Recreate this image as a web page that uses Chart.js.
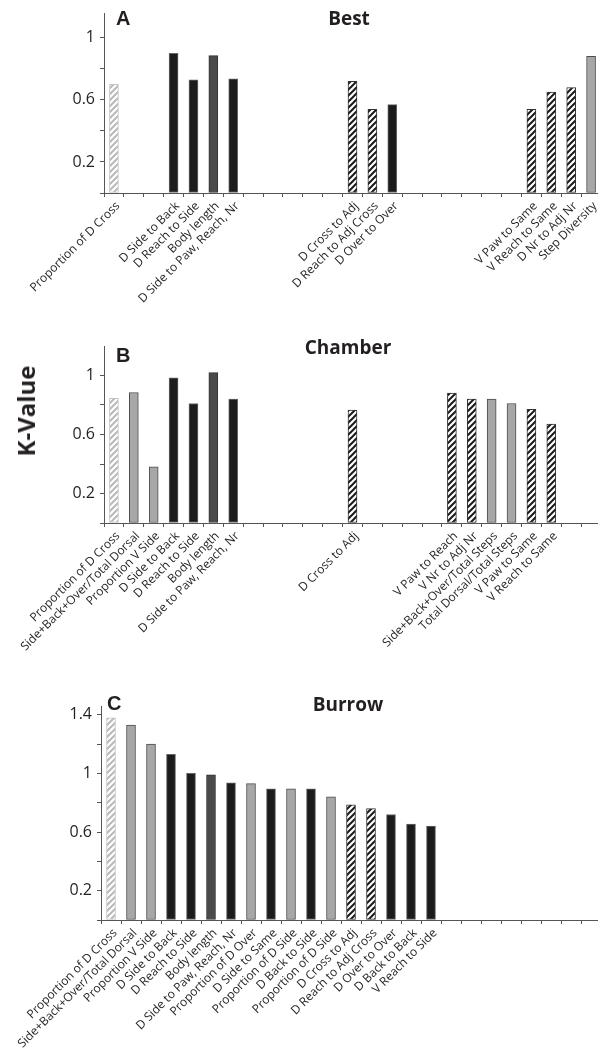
<!DOCTYPE html>
<html lang="en">
<head>
  <meta charset="UTF-8" />
  <title>K-Value: Best / Chamber / Burrow</title>
  <script src="https://cdn.jsdelivr.net/npm/chart.js"></script>
  <style>
    body { margin: 0; background: #fff; overflow: hidden; }
    #wrap { position: relative; width: 598px; height: 1055px; overflow: hidden; }
    canvas { position: absolute; left: 0; }
    .letter { position: absolute; font: bold 20px/20px "Liberation Sans", Arial, sans-serif; color: #231f20; }
    .title { position: absolute; font: bold 19px/19px "Open Sans", sans-serif; color: #231f20; transform: translateX(-50%); white-space: nowrap; }
    #ylab { position: absolute; left: 26px; top: 411px; font: bold 24px/24px "Open Sans", sans-serif; color: #231f20;
            transform: translate(-50%, -50%) rotate(-90deg); white-space: nowrap; }
  </style>
</head>
<body>
<div id="wrap">
  <canvas id="chartA" width="601" height="330" style="top:0px"></canvas>
  <canvas id="chartB" width="601" height="337" style="top:333px"></canvas>
  <canvas id="chartC" width="601" height="385" style="top:670px"></canvas>

  <div class="letter" style="left:116px; top:8px">A</div>
  <div class="title" style="left:349px; top:9px">Best</div>
  <div class="letter" style="left:116px; top:345px">B</div>
  <div class="title" style="left:348px; top:338px">Chamber</div>
  <div class="letter" style="left:107px; top:693px">C</div>
  <div class="title" style="left:348px; top:695px">Burrow</div>
  <div id="ylab">K-Value</div>
</div>

<script>
  // --- data (empty slots = null) ---
  const labelsA = ["Proportion of D Cross", "", "", "D Side to Back", "D Reach to Side", "Body length",
    "D Side to Paw, Reach, Nr", "", "", "", "", "", "D Cross to Adj", "D Reach to Adj Cross", "D Over to Over",
    "", "", "", "", "", "", "V Paw to Same", "V Reach to Same", "D Nr to Adj Nr", "Step Diversity"];
  const valuesA = [0.70, null, null, 0.90, 0.73, 0.885, 0.735, null, null, null, null, null, 0.72, 0.54, 0.57,
    null, null, null, null, null, null, 0.54, 0.65, 0.68, 0.88];
  const groupsA = ["propCross", "", "", "dorsal", "dorsal", "body", "dorsal", "", "", "", "", "", "transition",
    "transition", "dorsal", "", "", "", "", "", "", "transition", "transition", "transition", "ratio"];

  const labelsB = ["Proportion of D Cross", "Side+Back+Over/Total Dorsal", "Proportion V Side", "D Side to Back",
    "D Reach to Side", "Body length", "D Side to Paw, Reach, Nr", "", "", "", "", "", "D Cross to Adj",
    "", "", "", "", "V Paw to Reach", "V Nr to Adj Nr", "Side+Back+Over/Total Steps", "Total Dorsal/Total Steps",
    "V Paw to Same", "V Reach to Same", "", ""];
  const valuesB = [0.845, 0.885, 0.38, 0.985, 0.81, 1.02, 0.84, null, null, null, null, null, 0.765,
    null, null, null, null, 0.88, 0.84, 0.84, 0.81, 0.77, 0.67, null, null];
  const groupsB = ["propCross", "ratio", "ratio", "dorsal", "dorsal", "body", "dorsal", "", "", "", "", "",
    "transition", "", "", "", "", "transition", "transition", "ratio", "ratio", "transition", "transition", "", ""];

  const labelsC = ["Proportion of D Cross", "Side+Back+Over/Total Dorsal", "Proportion V Side", "D Side to Back",
    "D Reach to Side", "Body length", "D Side to Paw, Reach, Nr", "Proportion of D Over", "D Side to Same",
    "Proportion of D Side", "D Back to Side", "Proportion of D Side", "D Cross to Adj", "D Reach to Adj Cross",
    "D Over to Over", "D Back to Back", "V Reach to Side", "", "", "", "", "", "", "", ""];
  const valuesC = [1.38, 1.33, 1.20, 1.13, 1.00, 0.99, 0.935, 0.93, 0.895, 0.895, 0.895, 0.84, 0.785, 0.76,
    0.72, 0.655, 0.64, null, null, null, null, null, null, null, null];
  const groupsC = ["propCross", "ratio", "ratio", "dorsal", "dorsal", "body", "dorsal", "ratio", "dorsal",
    "ratio", "dorsal", "ratio", "transition", "transition", "dorsal", "dorsal", "dorsal", "", "", "", "", "", "", "", ""];

  const yTicksAB = [0, 0.2, 0.4, 0.6, 0.8, 1];
  const yLabelsAB = ["", "0.2", "", "0.6", "", "1"];
  const yTicksC = [0, 0.2, 0.4, 0.6, 0.8, 1, 1.2, 1.4];
  const yLabelsC = ["", "0.2", "", "0.6", "", "1", "", "1.4"];

  // --- styles ---
  function hatch(stripe, bg) {
    const c = document.createElement("canvas");
    c.width = 6; c.height = 6;
    const g = c.getContext("2d");
    g.fillStyle = bg; g.fillRect(0, 0, 6, 6);
    g.strokeStyle = stripe; g.lineWidth = 2;
    g.beginPath();
    g.moveTo(-1, 7); g.lineTo(7, -1);
    g.moveTo(-1, 1); g.lineTo(1, -1);
    g.moveTo(5, 7); g.lineTo(7, 5);
    g.stroke();
    return g.createPattern(c, "repeat");
  }

  const look = {
    propCross:  { fill: hatch("#b9b9b9", "#ffffff"), line: "#c4c4c4" },
    dorsal:     { fill: "#1c1c1c", line: "#666666" },
    body:       { fill: "#4a4a4a", line: "#333333" },
    transition: { fill: hatch("#1a1a1a", "#ffffff"), line: "#333333" },
    ratio:      { fill: "#a7a7a7", line: "#4d4d4d" },
    "":         { fill: "#ffffff", line: "#ffffff" }
  };

  const tickFont = { family: "Open Sans", size: 16 };
  const catFont = { family: "Open Sans", size: 12 };

  function makePanel(id, labels, values, groups, yMax, yTicks, yLabels, axisLeft, areaTop, areaBottom) {
    const cv = document.getElementById(id);
    const H = cv.height;
    return new Chart(cv.getContext("2d"), {
      type: "bar",
      data: {
        labels: labels,
        datasets: [{
          data: values,
          backgroundColor: groups.map(g => look[g].fill),
          borderColor: groups.map(g => look[g].line),
          borderWidth: 1,
          borderSkipped: false,
          barThickness: 9
        }]
      },
      options: {
        responsive: false,
        animation: false,
        layout: { padding: { top: areaTop, left: 0, right: 0, bottom: 0 } },
        plugins: { legend: { display: false }, tooltip: { enabled: false }, title: { display: false } },
        scales: {
          x: {
            offset: true,
            grid: { offset: true, drawOnChartArea: false, drawTicks: true, tickLength: 4, color: "#555" },
            border: { display: true, color: "#555", width: 1 },
            ticks: { autoSkip: false, maxRotation: 45, minRotation: 45, font: catFont, color: "#231f20",
                     padding: 2, labelOffset: 4 },
            afterFit: s => { s.height = H - areaBottom; s.paddingLeft = 0; s.paddingRight = 0; }
          },
          y: {
            min: 0,
            max: yMax,
            afterBuildTicks: s => { s.ticks = yTicks.map(v => ({ value: v })); },
            afterFit: s => { s.width = axisLeft; s.paddingTop = 0; s.paddingBottom = 0; },
            grid: { drawOnChartArea: false, drawTicks: true, tickLength: 4, color: "#555" },
            border: { display: true, color: "#555", width: 1 },
            ticks: {
              font: tickFont, color: "#231f20", padding: 5,
              callback: (v, i) => yLabels[i]
            }
          }
        }
      }
    });
  }

  makePanel("chartA", labelsA, valuesA, groupsA, 1.16, yTicksAB, yLabelsAB, 104, 13, 193);
  makePanel("chartB", labelsB, valuesB, groupsB, 1.20, yTicksAB, yLabelsAB, 104, 13, 190);
  makePanel("chartC", labelsC, valuesC, groupsC, 1.46, yTicksC, yLabelsC, 101, 36, 250);
</script>
</body>
</html>
